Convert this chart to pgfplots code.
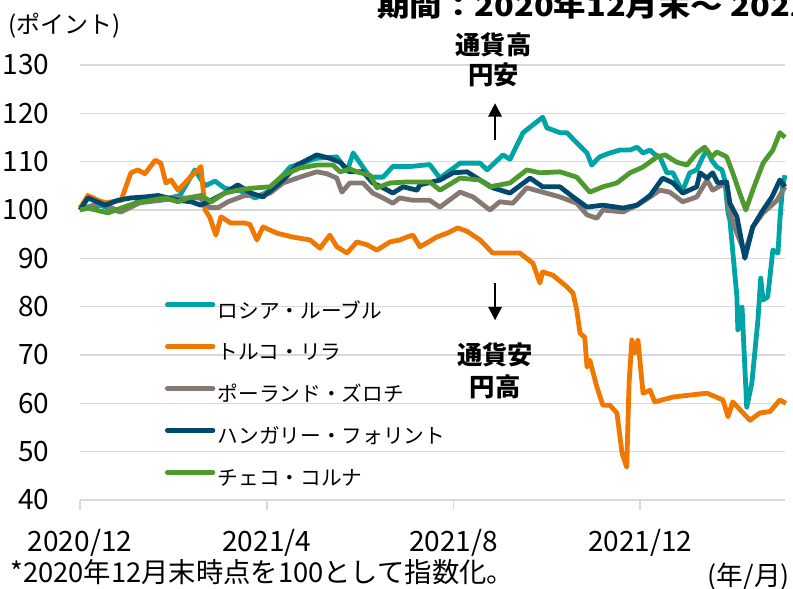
\documentclass[border=0pt]{standalone}
\usepackage{fontspec}
\setmainfont{Noto Sans CJK JP}
\usepackage{graphicx}
\usepackage{pgfplots}
\pgfplotsset{compat=1.18}
\usetikzlibrary{arrows.meta}
\definecolor{cteal}{RGB}{0,163,166}
\definecolor{corange}{RGB}{240,120,0}
\definecolor{cgray}{RGB}{134,121,115}
\definecolor{cnavy}{RGB}{0,72,110}
\definecolor{cgreen}{RGB}{78,154,46}
\definecolor{cgrid}{RGB}{217,217,217}
\begin{document}
\begin{tikzpicture}[x=0.75pt,y=0.75pt]
\useasboundingbox (-80,-89) rectangle (713,500);
\begin{axis}[
  at={(0,0)}, anchor=south west,
  scale only axis, width=528.75pt, height=326.25pt,
  xmin=0, xmax=15.1, ymin=40, ymax=130,
  clip=false,
  axis line style={draw=none},
  ymajorgrids=true,
  major grid style={cgrid, line width=1.2pt},
  xtick={0,4,8,12},
  xticklabels={2020/12,2021/4,2021/8,2021/12},
  ytick={40,50,...,130},
  xtick pos=left, ytick pos=left,
  tick align=outside,
  major tick length=7.5pt,
  xtick style={cgrid, line width=1.2pt},
  ytick style={draw=none},
  /pgf/number format/assume math mode=true,
  tick label style={font=\fontsize{21}{24}\selectfont, text=black},
  yticklabel style={anchor=east, xshift=-12pt},
  xticklabel style={anchor=north, yshift=-11pt},
  legend cell align=left,
  legend style={at={(axis cs:1.82,80.95)}, anchor=north west, draw=none, fill=none,
    inner sep=0pt, outer sep=0pt,
    font=\fontsize{15.5}{18}\selectfont,
    nodes={inner sep=0pt, inner xsep=2pt, text height=12pt, text depth=3pt},
    row sep=16.4pt},
  legend image code/.code={\draw[#1, line width=3.75pt, line cap=round] (0pt,5.5pt) -- (34pt,5.5pt);},
  every axis plot/.append style={line width=3.6pt, line join=round, no markers},
]
% Russia ruble
\addplot[cteal] coordinates {
(0,100.4)(0.43,101)(0.86,99.6)(1.28,102)(1.71,102)(2.14,103)(2.46,108.3)(2.68,105)(2.89,106)(3.10,104.5)(3.43,104)(3.75,102.5)
(4.07,104)(4.50,108.9)(5.07,110.7)(5.50,111)(5.72,108)(5.85,111.8)(6.21,106.8)(6.49,106.8)(6.70,109)(7.07,109)(7.49,109.4)
(7.71,106.6)(8.14,109.7)(8.57,109.7)(8.72,108.3)(9.06,111.4)(9.21,110.5)(9.49,116)(9.91,119.2)(10.00,117)(10.28,116)(10.43,116)
(10.64,113.9)(10.86,111.8)(10.96,109.3)(11.13,111)(11.35,111.8)(11.56,112.4)(11.78,112.4)(11.93,113)(12.06,111.8)(12.21,112.4)
(12.31,111.5)(12.42,111)(12.57,107.7)(12.70,107.7)(12.85,104.8)(12.91,104.1)(13.06,107.7)(13.21,108.3)(13.34,111)(13.43,112.4)
(13.53,110.3)(13.64,108.9)(13.75,108.3)(13.81,106.2)(13.88,99.4)(13.92,97.9)(14.07,82)(14.09,75.2)(14.18,79.9)(14.28,59.2)
(14.39,64.2)(14.52,77.2)(14.58,85.9)(14.63,81.4)(14.73,82)(14.84,91.7)(14.95,91.1)(14.99,97.9)(15.05,105)(15.10,107.2)
};
\addlegendentry{ロシア・ルーブル}
% Turkey lira
\addplot[corange] coordinates {
(0,100.4)(0.17,103)(0.39,102)(0.54,101.5)(0.88,102)(1.09,107.7)(1.24,108.3)(1.39,107.5)(1.61,110.3)(1.73,109.7)(1.84,105.6)
(1.95,106.2)(2.10,104.1)(2.25,105.6)(2.38,107)(2.53,108.3)(2.59,109)(2.68,100)(2.78,98.5)(2.91,94.8)(3.02,98.6)(3.23,97.3)
(3.53,97.3)(3.64,97)(3.79,93.8)(3.92,96.5)(4.22,95.2)(4.56,94.4)(4.93,93.8)(5.14,92.1)(5.35,94.8)(5.50,92.4)(5.72,91.1)
(5.93,93.4)(6.15,92.8)(6.36,91.7)(6.64,93.4)(6.85,93.8)(7.00,94.4)(7.13,94.8)(7.28,92.4)(7.43,93.2)(7.64,94.4)(7.86,95.2)
(8.09,96.3)(8.29,95.6)(8.57,93.8)(8.84,91.1)(9.14,91.1)(9.42,91.1)(9.70,89)(9.85,84.9)(9.91,87.2)(10.13,86.5)(10.43,84.1)
(10.56,82.8)(10.64,79.3)(10.71,74.5)(10.81,73.7)(10.86,67.5)(10.92,68.9)(11.07,63.4)(11.20,59.6)(11.35,59.6)(11.50,58)
(11.61,49.7)(11.71,46.8)(11.76,64.2)(11.82,73.1)(11.88,70.4)(11.95,73.1)(12.06,62.1)(12.21,62.7)(12.31,60.3)(12.70,61.3)
(13.06,61.7)(13.43,62.1)(13.77,60.7)(13.88,57.2)(13.98,60.3)(14.35,56.5)(14.56,58)(14.78,58.3)(14.99,60.7)(15.12,60)
};
\addlegendentry{トルコ・リラ}
% Poland zloty
\addplot[cgray] coordinates {
(0,100)(0.43,101.5)(0.88,99.6)(1.28,101.5)(1.71,102)(2.14,102.5)(2.57,102.5)(2.78,100.5)(2.96,100.5)(3.17,101.7)(3.53,103)
(3.81,103)(4.07,103.5)(4.35,105.6)(4.71,106.8)(5.07,107.9)(5.29,107.5)(5.50,106.6)(5.61,103.7)(5.78,105.6)(6.06,105.6)
(6.27,103.5)(6.49,102.5)(6.70,101.4)(6.85,102.5)(7.13,102)(7.49,102)(7.71,100.6)(8.14,103.7)(8.42,102.7)(8.78,100)(8.99,101.7)
(9.27,101.4)(9.57,104.6)(9.91,103.7)(10.28,102.7)(10.64,101.4)(10.86,99)(11.07,98.3)(11.20,100)(11.63,99.6)(11.93,101)
(12.21,102.7)(12.42,104.1)(12.63,103.7)(12.91,101.7)(13.21,102.7)(13.43,106.2)(13.55,104.1)(13.75,105.2)(13.85,105)
(13.92,99.4)(14.07,95.2)(14.24,91.1)(14.41,96.5)(14.63,99.4)(14.93,102)(15.10,104.8)
};
\addlegendentry{ポーランド・ズロチ}
% Hungary forint
\addplot[cnavy] coordinates {
(0,100)(0.17,102.5)(0.54,101)(0.81,102)(1.09,102.5)(1.39,102.7)(1.67,103)(2.10,102)(2.38,101.7)(2.59,101)(2.81,102)(3.10,103.5)
(3.38,105.2)(3.66,103.5)(3.92,102.7)(4.35,106.2)(4.65,109.3)(5.07,111.4)(5.35,110.7)(5.57,109.9)(5.78,107.9)(6.06,107.9)
(6.27,105.6)(6.49,104.6)(6.70,103.5)(6.92,104.8)(7.22,104.1)(7.28,105.2)(7.71,106.2)(7.99,107.7)(8.29,107.9)(8.57,106.2)
(8.84,104.6)(9.21,103.5)(9.64,106.6)(9.91,104.8)(10.28,104.8)(10.56,102.7)(10.86,100.6)(11.20,101)(11.63,100.4)(11.93,101)
(12.21,103)(12.48,106.6)(12.70,105.6)(12.91,103.5)(13.21,104.8)(13.28,107.7)(13.43,106.6)(13.55,107.7)(13.66,105.6)(13.85,105.8)
(13.92,101.4)(14.07,98.6)(14.24,90)(14.41,96.5)(14.63,100)(14.82,102.7)(14.99,106.2)(15.10,104.8)
};
\addlegendentry{ハンガリー・フォリント}
% Czech koruna
\addplot[cgreen] coordinates {
(0,100)(0.17,100.4)(0.60,99.4)(0.88,100.4)(1.18,101.4)(1.52,102)(1.82,102.5)(2.10,101.7)(2.31,102.5)(2.59,103)(2.81,101.7)
(3.10,103.5)(3.38,104.1)(3.66,104.5)(4.07,104.8)(4.35,107.2)(4.71,108.7)(5.07,109.3)(5.42,109.3)(5.57,107.9)(5.78,108.5)
(5.93,107.9)(6.21,107.2)(6.36,104.6)(6.64,105.6)(7.00,105.8)(7.49,105.8)(7.71,104.1)(8.14,106.6)(8.57,106.2)(8.78,104.8)
(9.21,105.6)(9.57,108.3)(9.85,107.7)(10.28,107.9)(10.64,106.8)(10.92,103.7)(11.20,104.8)(11.50,105.6)(11.78,107.7)(12.06,108.9)
(12.36,111)(12.53,111.4)(12.78,109.9)(13.00,109.3)(13.21,111.8)(13.38,113)(13.53,111)(13.64,112)(13.85,111)(13.98,107.7)
(14.13,103.5)(14.26,100)(14.41,104.1)(14.63,109.7)(14.84,112.4)(14.99,116)(15.10,115)
};
\addlegendentry{チェコ・コルナ}
% annotations
\node[font=\bfseries\fontsize{19}{22}\selectfont] at (axis cs:8.86,134.1) {通貨高};
\node[font=\bfseries\fontsize{19}{22}\selectfont] at (axis cs:8.86,127.9) {円安};
\draw[line width=1.6pt, -{Triangle[width=10pt,length=10pt]}] (axis cs:8.89,114.5) -- (axis cs:8.89,122.1);
\draw[line width=1.6pt, -{Triangle[width=10pt,length=10pt]}] (axis cs:8.89,84.9) -- (axis cs:8.89,77.2);
\node[font=\bfseries\fontsize{19}{22}\selectfont] at (axis cs:8.89,70.0) {通貨安};
\node[font=\bfseries\fontsize{19}{22}\selectfont] at (axis cs:8.89,63.4) {円高};
\end{axis}
\node[anchor=base west, font=\bfseries\fontsize{21}{26}\selectfont, inner sep=0pt] at (297,483) {\scalebox{1.16}[1]{期間：2020年12月末～ 2022年4月末}};
\node[anchor=west, font=\fontsize{18}{21}\selectfont, inner sep=0pt] at (-72,474) {(ポイント)};
\node[anchor=west, font=\fontsize{20.5}{24}\selectfont, inner sep=0pt] at (-70,-72) {*2020年12月末時点を100として指数化。};
\node[anchor=east, font=\fontsize{20}{24}\selectfont, inner sep=0pt] at (710,-77) {(年/月)};
\end{tikzpicture}
\end{document}
